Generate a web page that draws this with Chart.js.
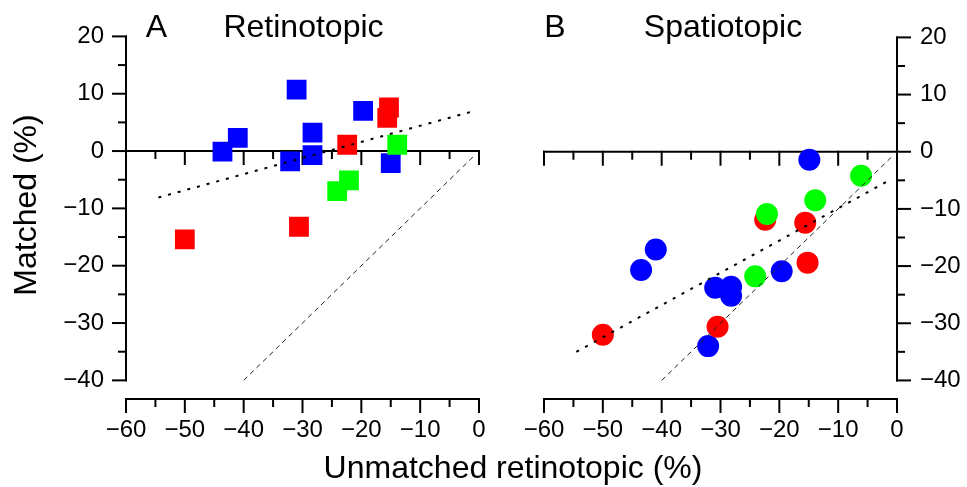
<!DOCTYPE html>
<html>
<head>
<meta charset="utf-8">
<script src="https://cdn.jsdelivr.net/npm/chart.js@4.4.1/dist/chart.umd.min.js"></script>
<style>
  html, body { margin: 0; padding: 0; background: #fff; }
  #wrap { position: relative; width: 967px; height: 487px; }
  #wrap canvas { position: absolute; left: 0; top: 0; }
</style>
</head>
<body>
<div id="wrap">
  <canvas id="retino" width="967" height="487"></canvas>
  <canvas id="spatio" width="967" height="487"></canvas>
</div>
<script>
// x = unmatched retinotopic (%), y = matched (%)
// panel A, retinotopic (squares)
const retBlueX  = [-31.0, -19.7, -28.3, -41.0, -43.6, -28.3, -32.1, -15.0];
const retBlueY  = [10.7, 7.0, 3.2, 2.3, -0.1, -0.7, -1.8, -2.1];
const retRedX   = [-15.3, -15.6, -22.4, -30.6, -50.0];
const retRedY   = [7.6, 5.8, 1.1, -13.2, -15.4];
const retGreenX = [-13.9, -22.1, -24.1];
const retGreenY = [1.1, -5.1, -7.0];
const retFitX   = [-54.5, -1.5];
const retFitY   = [-8.1, 6.8];

// panel B, spatiotopic (circles)
const spaBlueX  = [-14.9, -41.0, -43.5, -19.6, -30.9, -28.2, -28.2, -32.1];
const spaBlueY  = [-1.4, -17.1, -20.7, -20.9, -23.8, -23.6, -25.2, -34.0];
const spaRedX   = [-22.4, -15.6, -15.2, -30.5, -50.0];
const spaRedY   = [-11.9, -12.4, -19.4, -30.6, -32.0];
const spaGreenX = [-6.1, -13.9, -22.1, -24.1];
const spaGreenY = [-4.2, -8.5, -10.9, -21.8];
const spaFitX   = [-54.5, -1.5];
const spaFitY   = [-35.0, -5.1];

// unity line, same in both panels
const unityX = [-40, -1];
const unityY = [-40, -1];

// ticks
const xMajor = [-60, -50, -40, -30, -20, -10, 0];
const xMinor = [-55, -45, -35, -25, -15, -5];
const yMajor = [20, 10, 0, -10, -20, -30, -40];
const yMinor = [15, 5, -5, -15, -25, -35];

const FONT = '"Liberation Sans", Arial, Helvetica, sans-serif';

function pts(xs, ys) {
    return xs.map((x, i) => ({x: x, y: ys[i]}));
}

function fmt(v) {
    return v < 0 ? '\u2212' + Math.abs(v) : String(v);
}

const paperAxes = {
    id: 'paperAxes',
    beforeDatasetsDraw(chart, args, opts) {
        const {ctx, chartArea} = chart;
        const sx = chart.scales.x, sy = chart.scales.y;
        const seg = (x1, y1, x2, y2) => {
            ctx.beginPath(); ctx.moveTo(x1, y1); ctx.lineTo(x2, y2); ctx.stroke();
        };
        ctx.save();
        ctx.strokeStyle = '#000';
        ctx.lineWidth = 2;
        ctx.lineCap = 'square';

        // x axis, set below the plot
        const yb = chartArea.bottom;
        seg(sx.getPixelForValue(-60), yb, sx.getPixelForValue(0), yb);
        xMajor.forEach(v => seg(sx.getPixelForValue(v), yb, sx.getPixelForValue(v), yb + 13));
        xMinor.forEach(v => seg(sx.getPixelForValue(v), yb, sx.getPixelForValue(v), yb + 7));

        // zero line with ticks hanging down
        const y0 = sy.getPixelForValue(0);
        seg(sx.getPixelForValue(-60), y0, sx.getPixelForValue(0), y0);
        xMajor.forEach(v => seg(sx.getPixelForValue(v), y0, sx.getPixelForValue(v), y0 + 13));
        xMinor.forEach(v => seg(sx.getPixelForValue(v), y0, sx.getPixelForValue(v), y0 + 7));

        // y axis, left or right
        const ax = opts.side === 'right' ? chartArea.right : chartArea.left;
        const dir = opts.side === 'right' ? 1 : -1;
        seg(ax, sy.getPixelForValue(-40), ax, sy.getPixelForValue(20));
        yMajor.forEach(v => seg(ax, sy.getPixelForValue(v), ax + dir * 13, sy.getPixelForValue(v)));
        yMinor.forEach(v => seg(ax, sy.getPixelForValue(v), ax + dir * 7, sy.getPixelForValue(v)));
        ctx.restore();
    }
};

const paperText = {
    id: 'paperText',
    afterDraw(chart, args, opts) {
        const ctx = chart.ctx;
        ctx.save();
        ctx.fillStyle = '#000';
        ctx.font = '32px ' + FONT;
        ctx.textAlign = 'center';
        ctx.textBaseline = 'alphabetic';
        ctx.fillText(opts.letter, opts.letterX, 37);
        ctx.fillText(opts.name, opts.nameX, 37);
        if (opts.axisTitles) {
            ctx.fillText('Unmatched retinotopic (%)', 513, 478);
            ctx.translate(27, 205);
            ctx.rotate(-Math.PI / 2);
            ctx.textBaseline = 'middle';
            ctx.fillText('Matched (%)', 0, 0);
        }
        ctx.restore();
    }
};

function makePanel(canvasId, side, blue, red, green, fit, shape, radius, text) {
    const marker = (data, color, order) => ({
        type: 'scatter',
        data: data,
        pointStyle: shape,
        pointRadius: radius,
        pointHoverRadius: radius,
        pointBackgroundColor: color,
        pointBorderWidth: 0,
        order: order
    });
    const guide = (data, width, dash, color) => ({
        type: 'line',
        data: data,
        borderColor: color,
        borderWidth: width,
        borderDash: dash,
        pointRadius: 0,
        fill: false,
        order: 0
    });

    return new Chart(document.getElementById(canvasId), {
        type: 'scatter',
        data: {
            datasets: [
                guide(fit, 2, [3, 7], '#000'),
                guide(pts(unityX, unityY), 1, [5, 4], '#222'),
                marker(green, '#00ff00', 1),
                marker(red, '#ff0000', 2),
                marker(blue, '#0000ff', 3)
            ]
        },
        options: {
            responsive: false,
            animation: false,
            devicePixelRatio: 1,
            events: [],
            layout: {
                padding: side === 'left'
                    ? {left: 0, right: 488, top: 29, bottom: 0}
                    : {left: 544, right: 0, top: 29, bottom: 0}
            },
            scales: {
                x: {
                    type: 'linear',
                    min: -60,
                    max: 0,
                    afterBuildTicks: s => { s.ticks = xMajor.map(v => ({value: v})); },
                    afterFit: s => { s.height = 88; },
                    grid: {display: false, drawTicks: false},
                    border: {display: false},
                    ticks: {
                        callback: fmt,
                        color: '#000',
                        font: {family: FONT, size: 24},
                        padding: 17,
                        maxRotation: 0,
                        autoSkip: false
                    }
                },
                y: {
                    type: 'linear',
                    position: side,
                    min: -43.25,
                    max: 20,
                    afterBuildTicks: s => { s.ticks = yMajor.map(v => ({value: v})); },
                    afterFit: s => { s.width = side === 'left' ? 126 : 70; },
                    grid: {display: false, drawTicks: false},
                    border: {display: false},
                    ticks: {
                        callback: fmt,
                        color: '#000',
                        font: {family: FONT, size: 24},
                        padding: side === 'left' ? 22 : 23
                    }
                }
            },
            plugins: {
                legend: {display: false},
                tooltip: {enabled: false},
                paperAxes: {side: side},
                paperText: text
            }
        },
        plugins: [paperAxes, paperText]
    });
}

makePanel('retino', 'left',
    pts(retBlueX, retBlueY), pts(retRedX, retRedY), pts(retGreenX, retGreenY),
    pts(retFitX, retFitY), 'rect', 14,
    {letter: 'A', letterX: 156.5, name: 'Retinotopic', nameX: 303.5, axisTitles: true});

makePanel('spatio', 'right',
    pts(spaBlueX, spaBlueY), pts(spaRedX, spaRedY), pts(spaGreenX, spaGreenY),
    pts(spaFitX, spaFitY), 'circle', 11,
    {letter: 'B', letterX: 555, name: 'Spatiotopic', nameX: 723, axisTitles: false});
</script>
</body>
</html>
